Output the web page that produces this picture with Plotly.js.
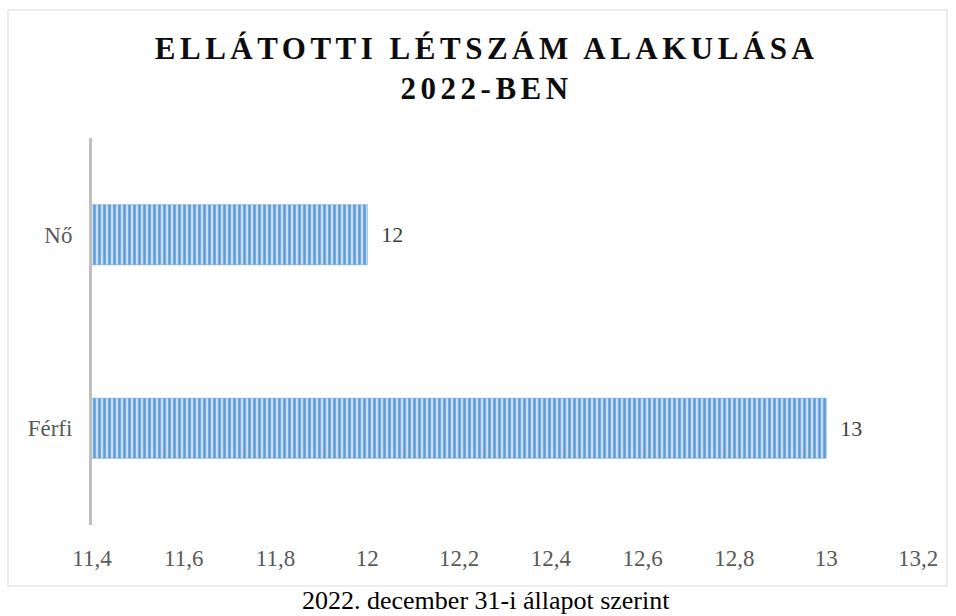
<!DOCTYPE html>
<html>
<head>
<meta charset="utf-8">
<script src="https://cdn.plot.ly/plotly-3.0.1.min.js"></script>
<style>
html,body{margin:0;padding:0;background:#fff;}
#chart{width:956px;height:616px;}
.gtitle{letter-spacing:4.5px;}
</style>
</head>
<body>
<div id="chart"></div>
<script>
const categories = ['Férfi', 'Nő'];
const values = [13, 12];
const tickVals = [11.4, 11.6, 11.8, 12, 12.2, 12.4, 12.6, 12.8, 13, 13.2];
const tickText = ['11,4', '11,6', '11,8', '12', '12,2', '12,4', '12,6', '12,8', '13', '13,2'];
const titleText = 'ELLÁTOTTI LÉTSZÁM ALAKULÁSA<br>2022-BEN';
const captionText = '2022. december 31-i állapot szerint';

const serif = 'Liberation Serif, Times New Roman, serif';

const trace = {
  type: 'bar',
  orientation: 'h',
  y: categories,
  x: values,
  width: 0.31,
  marker: {
    color: '#5b9bd5',
    line: {color: 'rgba(91,155,213,0.55)', width: 1},
    pattern: {shape: '|', fgcolor: '#5b9bd5', bgcolor: '#c9def2', size: 5, solidity: 0.5}
  },
  text: values.map(String),
  texttemplate: '\u2002%{text}',
  textposition: 'outside',
  cliponaxis: false,
  textfont: {family: serif, size: 22, color: '#404040'},
  hoverinfo: 'none'
};

const layout = {
  width: 956,
  height: 616,
  margin: {l: 92, r: 38, t: 138, b: 91},
  paper_bgcolor: '#ffffff',
  plot_bgcolor: '#ffffff',
  showlegend: false,
  separators: ',.',
  font: {family: serif},
  title: {
    text: titleText,
    font: {family: serif, size: 31, color: '#0d0d0d', weight: 'bold'},
    x: 0.509, xref: 'container', xanchor: 'center',
    y: 1 - 59 / 616, yref: 'container', yanchor: 'middle'
  },
  xaxis: {
    range: [11.4, 13.2],
    tickvals: tickVals,
    ticktext: tickText,
    showgrid: false,
    zeroline: false,
    showline: false,
    ticks: 'outside',
    ticklen: 12,
    tickcolor: 'rgba(0,0,0,0)',
    tickfont: {family: serif, size: 23, color: '#595959'},
    fixedrange: true
  },
  yaxis: {
    range: [-0.5, 1.5],
    showgrid: false,
    zeroline: false,
    showline: true,
    linecolor: '#bfbfbf',
    linewidth: 3,
    ticks: 'outside',
    ticklen: 12,
    tickcolor: 'rgba(0,0,0,0)',
    tickfont: {family: serif, size: 23, color: '#595959'},
    fixedrange: true
  },
  shapes: [{
    type: 'rect', xref: 'paper', yref: 'paper',
    x0: (8 - 92) / 826, x1: (947 - 92) / 826,
    y0: (525 - 586) / 387, y1: (525 - 10) / 387,
    line: {color: '#d9d9d9', width: 1},
    fillcolor: 'rgba(0,0,0,0)', layer: 'below'
  }],
  annotations: [{
    text: captionText,
    xref: 'paper', yref: 'paper',
    x: (486 - 92) / 826, y: (525 - 600) / 387,
    xanchor: 'center', yanchor: 'middle',
    showarrow: false,
    font: {family: serif, size: 26, color: '#000000'}
  }]
};

Plotly.newPlot('chart', [trace], layout, {displayModeBar: false, staticPlot: true});
</script>
</body>
</html>
